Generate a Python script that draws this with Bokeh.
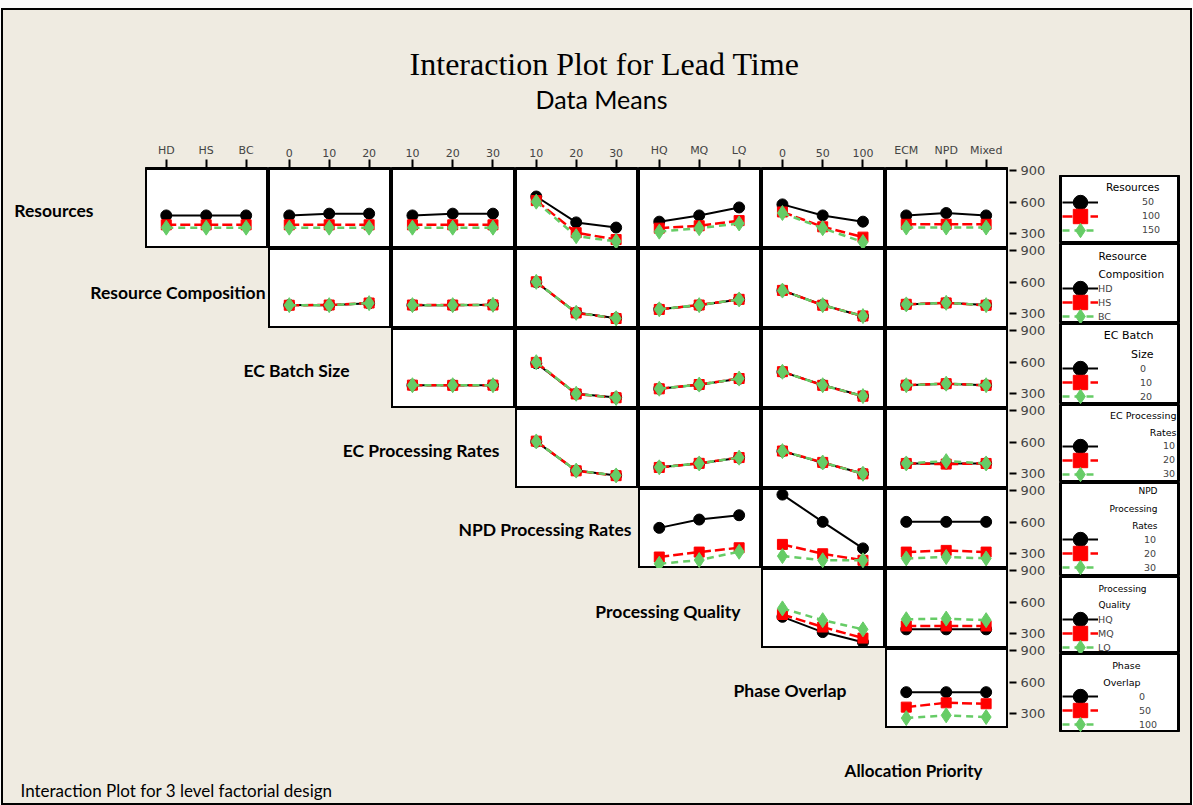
import numpy as np
from bokeh.plotting import figure
from bokeh.models import (Range1d, LinearAxis, FixedTicker, Label, Legend, LegendItem,
                          ColumnDataSource, Spacer, Row, Column)
from bokeh.embed import file_html
from bokeh.resources import INLINE

# ---------------------------------------------------------------- data
FACTORS = ["Resources", "Resource Composition", "EC Batch Size", "EC Processing Rates",
           "NPD Processing Rates", "Processing Quality", "Phase Overlap", "Allocation Priority"]
LEVELS = [["50", "100", "150"], ["HD", "HS", "BC"], ["0", "10", "20"], ["10", "20", "30"],
          ["10", "20", "30"], ["HQ", "MQ", "LQ"], ["0", "50", "100"], ["ECM", "NPD", "Mixed"]]
Y_TICKS = [300, 600, 900]

# mean lead time; one entry per x-factor (the factors after the trace factor),
# each entry: one list per level of the trace factor, values at the 3 x levels
RESOURCES_MEANS = [
    [[474, 474, 474], [385, 385, 385], [358, 358, 358]],
    [[474, 491, 491], [385, 385, 385], [358, 358, 358]],
    [[474, 491, 491], [385, 385, 385], [358, 358, 358]],
    [[654, 408, 359], [615, 310, 245], [605, 277, 228]],
    [[415, 474, 550], [353, 376, 425], [320, 353, 398]],
    [[579, 474, 415], [507, 366, 268], [497, 353, 221]],
    [[474, 497, 474], [390, 390, 390], [359, 359, 359]],
]
COMPOSITION_MEANS = [
    [[383, 381, 400], [381, 383, 402], [382, 382, 401]],
    [[382, 381, 386], [383, 383, 384], [382, 382, 385]],
    [[600, 311, 258], [604, 308, 255], [603, 309, 256]],
    [[343, 381, 436], [341, 383, 437], [342, 382, 436]],
    [[521, 383, 277], [522, 381, 279], [520, 382, 278]],
    [[388, 404, 383], [390, 403, 381], [389, 404, 382]],
]
BATCH_MEANS = [
    [[381, 381, 381], [382, 380, 382], [381, 381, 381]],
    [[590, 300, 265], [598, 298, 262], [600, 300, 260]],
    [[348, 386, 442], [347, 388, 445], [348, 387, 444]],
    [[508, 383, 279], [510, 380, 277], [509, 381, 278]],
    [[381, 395, 381], [382, 396, 380], [381, 396, 381]],
]
EC_RATE_MEANS = [
    [[605, 330, 284], [610, 328, 282], [607, 330, 284]],
    [[361, 398, 452], [360, 399, 454], [361, 398, 453]],
    [[515, 405, 302], [516, 408, 299], [515, 407, 300]],
    [[398, 398, 398], [398, 392, 398], [398, 420, 398]],
]
NPD_RATE_MEANS = [
    [[546, 625, 666], [269, 316, 357], [205, 240, 319]],
    [[862, 603, 351], [389, 300, 238], [278, 238, 238]],
    [[603, 603, 603], [316, 332, 316], [256, 269, 256]],
]
QUALITY_MEANS = [
    [[461, 316, 220], [483, 364, 259], [541, 429, 342]],
    [[342, 342, 342], [374, 374, 374], [438, 444, 429]],
]
OVERLAP_MEANS = [
    [[505, 505, 505], [363, 404, 395], [259, 285, 269]],
]
ROW_MEANS = [RESOURCES_MEANS, COMPOSITION_MEANS, BATCH_MEANS, EC_RATE_MEANS,
             NPD_RATE_MEANS, QUALITY_MEANS, OVERLAP_MEANS]

TITLE = "Interaction Plot for Lead Time"
SUBTITLE = "Data Means"
FOOTNOTE = "Interaction Plot for 3 level factorial design"

# legend title lines as wrapped in the original
LEGEND_TITLES = [["Resources"], ["Resource", "Composition"], ["EC Batch", "Size"],
                 ["EC Processing", "Rates"], ["NPD", "Processing", "Rates"],
                 ["Processing", "Quality"], ["Phase", "Overlap"]]

# ---------------------------------------------------------------- styles / layout
BG = "#EFEBE1"
SERIES = [dict(color="#000000", dash="solid", lw=2.0, marker="circle", size=11),
          dict(color="#FF0000", dash="10 4", lw=2.5, marker="square", size=10),
          dict(color="#66CC66", dash="7 5", lw=2.5, marker="diamond", size=15)]

FX, FY = 3, 10            # top-left of the framed area
FW, FH = 1187, 793        # framed area size
COL_WS = [123, 123, 124, 123, 123, 124, 123]
COL_L = [145 + sum(COL_WS[:i]) for i in range(7)]
RIGHT = COL_L[-1] + COL_WS[-1]      # 1008
ROW_H = 80
ROW_TOPS = [168 + ROW_H * i for i in range(7)]
GRID_TOP = 130
GRID_BOTTOM = ROW_TOPS[-1] + ROW_H  # 728
LEG_TOP = 175
Y_RANGE = (160, 920)
X_RANGE = (0.48, 3.56)
AXIS_W = 50
LEG_W = FX + FW - RIGHT - AXIS_W     # 132

ROW_LABEL_POS = [(93, 210), (265, 292), (349, 370), (499, 450), (631, 529), (740, 611), (846, 690)]

LEG_H = [68, 80, 81, 78, 94, 77, 79]
MID_BOTTOM = LEG_TOP + sum(LEG_H)   # 732
LEG_FIRST = [26.7, 45.3, 45.3, 41.7, 57.3, 43.3, 43.0]
LEG_TITLE_Y = [[11.7], [12, 30.3], [12, 31], [11, 27.7], [8.7, 26.3, 43], [12.3, 28], [12, 29.3]]
LEG_TITLE_X = [(99, "right"), (38, "left"), (93, "right"), (116, "right"),
               (97, "right"), (38, "left"), (80, "right")]
LEG_TITLE_SIZE = ["10.5px", "10.5px", "11px", "9.5px", "9px", "9px", "9.5px"]
LEG_LABEL_X = [82, 38, 80, 103, 84, 38, 79]
GLYPH = 36


def blank(w, h, xr, yr, **kw):
    opts = dict(width=w, height=h, x_range=Range1d(*xr), y_range=Range1d(*yr),
                x_axis_type=None, y_axis_type=None, toolbar_location=None,
                output_backend="svg", min_border=0, outline_line_color=None,
                background_fill_color=BG, border_fill_color=BG)
    opts.update(kw)
    return figure(**opts)


def panel(means, xlevels, width, top_axis):
    extra = ROW_TOPS[0] - GRID_TOP if top_axis else 0
    p = blank(width, ROW_H + extra, X_RANGE, Y_RANGE, min_border_top=extra,
              background_fill_color="white", outline_line_color="black",
              outline_line_width=3)
    for vals, st in zip(means, SERIES):
        src = ColumnDataSource(dict(x=[1, 2, 3], y=vals))
        p.line("x", "y", source=src, line_color=st["color"], line_width=st["lw"],
               line_dash=st["dash"])
        p.scatter("x", "y", source=src, marker=st["marker"], size=st["size"],
                  fill_color=st["color"], line_color=st["color"])
    if top_axis:
        ax = LinearAxis(ticker=FixedTicker(ticks=[1, 2, 3]),
                        major_label_overrides={1: xlevels[0], 2: xlevels[1], 3: xlevels[2]},
                        axis_line_color=None, major_tick_out=9, major_tick_in=0,
                        major_tick_line_width=2, minor_tick_line_color=None,
                        major_label_text_font_size="11px",
                        major_label_text_font="DejaVu Sans", major_label_standoff=3)
        p.add_layout(ax, "above")
    return p


# ---------------------------------------------------------------- header
header = blank(FW, GRID_TOP - FY, (FX, FX + FW), (GRID_TOP, FY))
header.add_layout(Label(x=604, y=63, text=TITLE, text_align="center", text_baseline="middle",
                        text_font="Liberation Serif", text_font_size="32px", text_color="black"))
header.add_layout(Label(x=601, y=98, text=SUBTITLE, text_align="center", text_baseline="middle",
                        text_font="Lato", text_font_size="25px", text_color="black"))

# ---------------------------------------------------------------- grid rows
grid_rows = []
for r in range(7):
    top = ROW_TOPS[r]
    bottom = top + ROW_H
    extra = ROW_TOPS[0] - GRID_TOP if r == 0 else 0
    lab = blank(COL_L[r] - FX, ROW_H + extra, (FX, COL_L[r]), (bottom, top),
                min_border_top=extra)
    lx, ly = ROW_LABEL_POS[r]
    lab.add_layout(Label(x=lx, y=ly, text=FACTORS[r], text_align="right", text_baseline="middle",
                         text_font="Lato", text_font_style="bold", text_font_size="17.5px",
                         text_color="black"))
    kids = [lab]
    for j, means in enumerate(ROW_MEANS[r]):
        c = r + j
        kids.append(panel(means, LEVELS[c + 1], COL_WS[c], r == 0))
    grid_rows.append(Row(children=kids))
grid_rows.append(Spacer(width=RIGHT - FX, height=MID_BOTTOM - GRID_BOTTOM))
left_stack = Column(children=grid_rows)

# ---------------------------------------------------------------- right y axes
shift = 8
scale = (Y_RANGE[1] - Y_RANGE[0]) / ROW_H
axis_kids = [Spacer(width=AXIS_W, height=ROW_TOPS[0] - shift - GRID_TOP)]
for r in range(7):
    a = blank(AXIS_W, ROW_H, (0, 1), (Y_RANGE[0] + shift * scale, Y_RANGE[1] + shift * scale),
              min_border_right=AXIS_W - 1)
    ax = LinearAxis(ticker=FixedTicker(ticks=Y_TICKS), axis_line_color=None,
                    major_tick_out=7, major_tick_in=0,
                    major_tick_line_width=2, minor_tick_line_color=None,
                    major_label_text_font_size="13px", major_label_text_font="DejaVu Sans",
                    major_label_standoff=4)
    a.add_layout(ax, "right")
    axis_kids.append(a)
axis_kids.append(Spacer(width=AXIS_W, height=MID_BOTTOM - GRID_BOTTOM + shift))
axis_col = Column(children=axis_kids)

# ---------------------------------------------------------------- legends
leg_kids = [Spacer(width=LEG_W, height=LEG_TOP - GRID_TOP)]
for r in range(7):
    h = LEG_H[r]
    lf = blank(LEG_W, h, (0, 118), (h, 0), min_border_left=2, min_border_right=LEG_W - 120,
               background_fill_color="white", outline_line_color="black",
               outline_line_width=3)
    for k, st in enumerate(SERIES):
        src = ColumnDataSource(dict(x=np.array([np.nan]), y=np.array([np.nan])))
        lr = lf.line("x", "y", source=src, line_color=st["color"], line_width=st["lw"],
                     line_dash=st["dash"])
        sr = lf.scatter("x", "y", source=src, marker=st["marker"], size=st["size"],
                        fill_color=st["color"], line_color=st["color"])
        center = LEG_FIRST[r] + 14 * k
        leg = Legend(items=[LegendItem(label=LEVELS[r][k], renderers=[lr, sr])],
                     location=(2, h - center - GLYPH / 2), glyph_width=GLYPH,
                     glyph_height=GLYPH, padding=0, margin=0, spacing=0,
                     border_line_color=None, background_fill_alpha=0,
                     label_standoff=LEG_LABEL_X[r] - 2 - GLYPH,
                     label_text_font="DejaVu Sans",
                     label_text_font_size="9.5px", label_height=14, label_width=10)
        lf.add_layout(leg)
    tx, talign = LEG_TITLE_X[r]
    for line_txt, ty in zip(LEGEND_TITLES[r], LEG_TITLE_Y[r]):
        lf.add_layout(Label(x=tx, y=ty, text=line_txt, text_align=talign,
                            text_baseline="middle", text_font="DejaVu Sans",
                            text_font_size=LEG_TITLE_SIZE[r], text_color="black"))
    leg_kids.append(lf)
leg_col = Column(children=leg_kids)

middle = Row(children=[left_stack, axis_col, leg_col])

# ---------------------------------------------------------------- footer
footer = blank(FW, FY + FH - MID_BOTTOM, (FX, FX + FW), (FY + FH, MID_BOTTOM))
footer.add_layout(Label(x=982, y=770, text=FACTORS[7], text_align="right", text_baseline="middle",
                        text_font="Lato", text_font_style="bold", text_font_size="17px",
                        text_color="black"))
footer.add_layout(Label(x=20, y=790, text=FOOTNOTE, text_align="left", text_baseline="middle",
                        text_font="Lato", text_font_size="17px", text_color="black"))

frame = Column(children=[header, middle, footer],
               styles={"outline": "2px solid black", "background-color": BG})
root = Column(children=[Spacer(width=FX + FW, height=FY),
                        Row(children=[Spacer(width=FX, height=FH), frame])],
              styles={"background-color": "#FAFAFA"})

open("out.html", "w").write(file_html(root, INLINE))
